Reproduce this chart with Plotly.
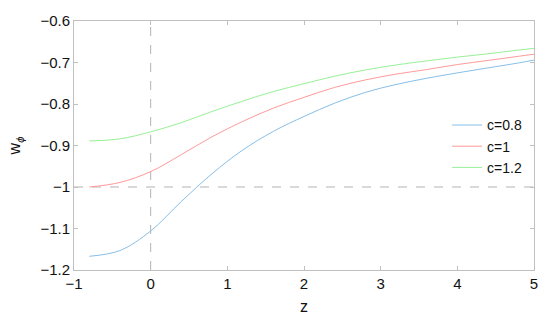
"""Equation-of-state parameter w_phi against redshift for three values of c."""

import plotly.graph_objects as go

z = [-0.8, -0.4, 0.0, 0.4, 0.8, 1.2, 1.6, 2.0, 2.4, 2.8, 3.2, 3.6, 4.0, 4.4, 4.8, 5.0]

w_c08 = [-1.167, -1.153, -1.106, -1.035, -0.968, -0.911, -0.866, -0.830, -0.798,
         -0.772, -0.753, -0.738, -0.725, -0.713, -0.701, -0.694]
w_c1 = [-1.000, -0.989, -0.963, -0.922, -0.879, -0.842, -0.810, -0.784, -0.760,
        -0.742, -0.728, -0.717, -0.705, -0.695, -0.685, -0.680]
w_c12 = [-0.889, -0.884, -0.867, -0.845, -0.818, -0.793, -0.770, -0.751, -0.733,
         -0.718, -0.706, -0.696, -0.687, -0.679, -0.670, -0.666]

series = [
    ("c=0.8", w_c08, "#86bfe8"),
    ("c=1", w_c1, "#ff9a9a"),
    ("c=1.2", w_c12, "#98f098"),
]

x_ticks = [-1, 0, 1, 2, 3, 4, 5]
y_ticks = [-1.2, -1.1, -1.0, -0.9, -0.8, -0.7, -0.6]
y_tick_text = ["\u22121.2", "\u22121.1", "\u22121", "\u22120.9", "\u22120.8", "\u22120.7", "\u22120.6"]

AXIS_GREY = "#c0c0c0"
FONT = "Liberation Sans, Arial, sans-serif"

fig = go.Figure()
for name, values, color in series:
    fig.add_trace(
        go.Scatter(
            x=z,
            y=values,
            mode="lines",
            name=name,
            line=dict(color=color, width=1, shape="spline", smoothing=1),
        )
    )

fig.add_hline(y=-1, line=dict(color="#b3b3b3", width=1, dash="dash"), layer="below")
fig.add_vline(x=0, line=dict(color="#b3b3b3", width=1, dash="dash"), layer="below")

axis_common = dict(
    showgrid=False,
    zeroline=False,
    showline=True,
    linecolor=AXIS_GREY,
    linewidth=1,
    mirror="ticks",
    ticks="inside",
    ticklen=4,
    tickcolor=AXIS_GREY,
    tickfont=dict(size=15, color="#111111", family=FONT),
)

fig.update_xaxes(
    range=[-1, 5],
    tickvals=x_ticks,
    ticktext=[str(v).replace("-", "\u2212") for v in x_ticks],
    title=dict(text="z", font=dict(size=16, color="#111111", family=FONT), standoff=9),
    **axis_common,
)
fig.update_yaxes(
    range=[-1.2, -0.6],
    tickvals=y_ticks,
    ticktext=y_tick_text,
    title=dict(text="w<sub><i>\u03d5</i></sub>", font=dict(size=16, color="#111111", family=FONT), standoff=15),
    **axis_common,
)

fig.update_layout(
    width=550,
    height=327,
    margin=dict(l=74, r=16, t=14, b=57),
    paper_bgcolor="white",
    plot_bgcolor="white",
    font=dict(family=FONT, color="#111111"),
    legend=dict(
        x=0.811,
        y=0.645,
        xanchor="left",
        yanchor="top",
        bgcolor="rgba(0,0,0,0)",
        font=dict(size=14, family=FONT),
        tracegroupgap=0,
    ),
)

# drop the browser's default 8px body margin so the figure sits at the page corner
fig.write_html(
    "out.html",
    config={"displayModeBar": False},
    post_script="document.body.style.margin = '0';",
)
